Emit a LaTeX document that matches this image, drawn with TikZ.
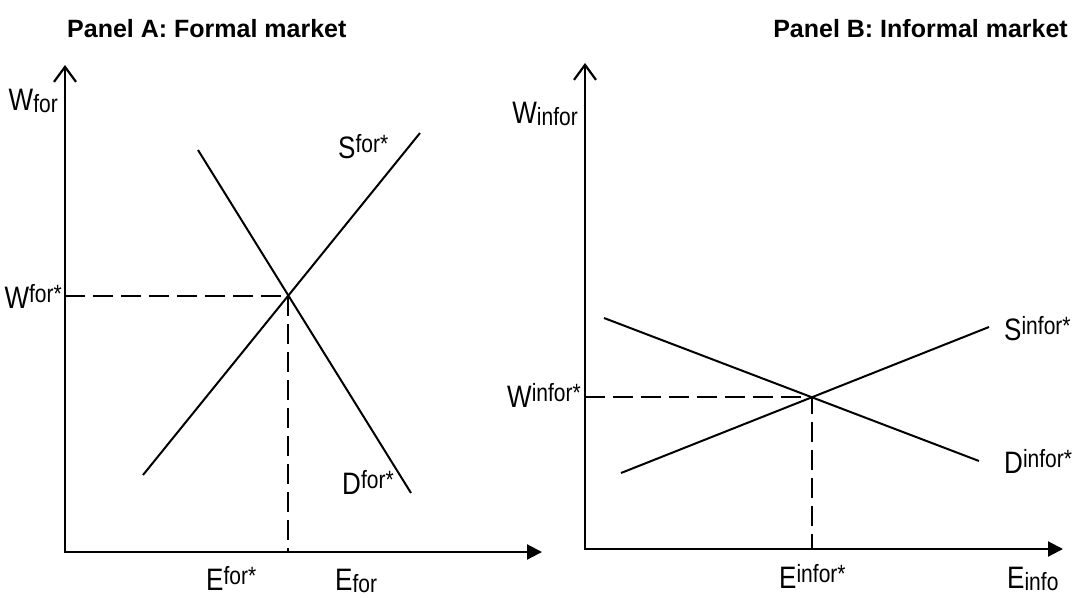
\documentclass[tikz,border=0pt]{standalone}
\usepackage{fontspec}
\setmainfont{Liberation Sans}
\usepackage{graphicx}
\usetikzlibrary{arrows.meta}
% narrow labels with raised / lowered index
\newcommand{\upidx}[2]{\scalebox{0.84}[1]{#1\raisebox{6pt}{\fontsize{25}{25}\selectfont #2}}}
\newcommand{\lowidx}[2]{\scalebox{0.84}[1]{#1\raisebox{-2pt}{\fontsize{25}{25}\selectfont #2}}}

\begin{document}
\begin{tikzpicture}[
  x=1pt, y=-1pt, font=\fontsize{31}{31}\selectfont,
  title/.style={inner sep=0pt, font=\fontsize{25}{25}\selectfont\bfseries},
  lbl/.style={inner sep=0pt},
  axes/.style={line width=2.2pt, line join=miter, {Straight Barb[length=15pt, width=22pt, line width=2.2pt]}-{Triangle[length=15pt, width=15pt]}},
  curve/.style={line width=2pt},
  guide/.style={line width=2pt, dash pattern=on 20pt off 8pt}]
  \useasboundingbox (0,0) rectangle (1075,597);
  % Panel A: formal market
  \node[title, anchor=base west] (tA) at (67,37) {Panel A: Formal market};
  \coordinate (oA) at (65,552);
  \coordinate (yA) at (65,65);
  \coordinate (xA) at (542,552);
  \draw[axes] (yA) -- (oA) -- (xA);
  \coordinate (sA1) at (143,475); \coordinate (sA2) at (420,133);
  \coordinate (dA1) at (198,150); \coordinate (dA2) at (411,493);
  \draw[curve] (sA1) -- (sA2);
  \draw[curve] (dA1) -- (dA2);
  \coordinate (eqA) at (intersection of sA1--sA2 and dA1--dA2);
  \draw[guide] (oA |- eqA) -- (eqA) -- (eqA |- oA);
  \node[lbl, anchor=base east] (wforA) at (58,110) {\lowidx{W}{for}};
  \node[lbl, anchor=base east] (wstarA) at (62,308) {\upidx{W}{for*}};
  \node[lbl, anchor=base west] (sA) at (338,158) {\upidx{S}{for*}};
  \node[lbl, anchor=base west] (dA) at (342,494) {\upidx{D}{for*}};
  \node[lbl, anchor=base west] (estarA) at (206,590) {\upidx{E}{for*}};
  \node[lbl, anchor=base west] (eforA) at (335,590) {\lowidx{E}{for}};
  % Panel B: informal market
  \node[title, anchor=base east] (tB) at (1068,37) {Panel B: Informal market};
  \coordinate (oB) at (585,549);
  \coordinate (yB) at (585,63);
  \coordinate (xB) at (1063,549);
  \draw[axes] (yB) -- (oB) -- (xB);
  \coordinate (sB1) at (621,473); \coordinate (sB2) at (989,327);
  \coordinate (dB1) at (604,318); \coordinate (dB2) at (979,461);
  \draw[curve] (sB1) -- (sB2);
  \draw[curve] (dB1) -- (dB2);
  \coordinate (eqB) at (intersection of sB1--sB2 and dB1--dB2);
  \draw[guide] (oB |- eqB) -- (eqB) -- (eqB |- oB);
  \node[lbl, anchor=base east] (winforB) at (578,123) {\lowidx{W}{infor}};
  \node[lbl, anchor=base east] (wstarB) at (581,407) {\upidx{W}{infor*}};
  \node[lbl, anchor=base west] (sB) at (1004,340) {\upidx{S}{infor*}};
  \node[lbl, anchor=base west] (dB) at (1004,473) {\upidx{D}{infor*}};
  \node[lbl, anchor=base west] (estarB) at (779,588) {\upidx{E}{infor*}};
  \node[lbl, anchor=base west] (einfoB) at (1007,588) {\lowidx{E}{info}};
\end{tikzpicture}
\end{document}
